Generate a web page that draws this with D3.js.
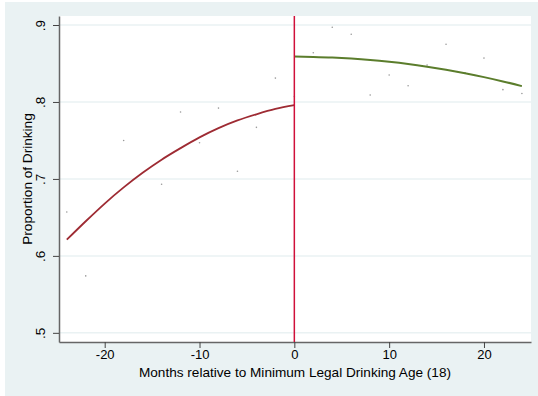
<!DOCTYPE html>
<html>
<head>
<meta charset="utf-8">
<script src="https://cdn.jsdelivr.net/npm/d3@7"></script>
<style>
  body { margin: 0; background: #fff; }
  svg { display: block; }
</style>
</head>
<body>
<script>
// binned scatter: months relative to MLDA, share drinking
const months = [-24, -22, -18, -14, -12, -10, -8, -6, -4, -2, 0,
  2, 4, 6, 8, 10, 12, 14, 16, 18, 20, 22, 24];
const shares = [0.657, 0.574, 0.750, 0.693, 0.787, 0.747, 0.792, 0.710, 0.767, 0.831, 0.807,
  0.864, 0.897, 0.888, 0.809, 0.835, 0.821, 0.848, 0.875, 0.838, 0.857, 0.816, 0.811];

// fitted values
const fitLeftX = [-24, -22, -20, -18, -16, -14, -12, -10, -8, -6, -4, -2, 0];
const fitLeftY = [0.621, 0.645, 0.668, 0.689, 0.708, 0.725, 0.740, 0.754, 0.766, 0.776, 0.784, 0.791, 0.796];
const fitRightX = [0, 2, 4, 6, 8, 10, 12, 14, 16, 18, 20, 22, 24];
const fitRightY = [0.859, 0.8585, 0.8577, 0.8564, 0.8546, 0.8522, 0.8493, 0.8458, 0.8418, 0.8373, 0.8323, 0.8267, 0.8206];

const xTicks = [-20, -10, 0, 10, 20];
const yTicks = [0.5, 0.6, 0.7, 0.8, 0.9];

const width = 538;
const height = 396;
const marginTop = 16;
const marginRight = 7;
const marginBottom = 54;
const marginLeft = 59;

const bgColor = "#eaf2f3";
const font = "Liberation Sans, Arial, sans-serif";

const x = d3.scaleLinear([-24.82, 24.96], [marginLeft, width - marginRight]);
const y = d3.scaleLinear([0.4881, 0.9117], [height - marginBottom, marginTop]);

const svg = d3.select("body").append("svg")
  .attr("width", width)
  .attr("height", height)
  .attr("viewBox", [0, 0, width, height]);

// outer panel
svg.append("rect")
  .attr("x", 5).attr("y", 2)
  .attr("width", width - 5).attr("height", height - 2)
  .attr("fill", bgColor);

svg.append("rect")
  .attr("x", marginLeft).attr("y", marginTop)
  .attr("width", width - marginLeft - marginRight)
  .attr("height", height - marginTop - marginBottom)
  .attr("fill", "#fff");

// grid
svg.append("g")
  .selectAll("line")
  .data(yTicks)
  .join("line")
  .attr("x1", marginLeft)
  .attr("x2", width - marginRight)
  .attr("y1", d => y(d))
  .attr("y2", d => y(d))
  .attr("stroke", bgColor)
  .attr("stroke-width", 1.5);

// axes
const fmt = d => d3.format(".1f")(d).replace(/^0/, "");

svg.append("g")
  .attr("transform", `translate(${marginLeft},0)`)
  .call(d3.axisLeft(y).tickValues(yTicks).tickSize(6).tickSizeOuter(0).tickPadding(8).tickFormat(fmt))
  .call(g => g.select(".domain").attr("stroke", "#666").attr("stroke-width", 1.5))
  .call(g => g.selectAll(".tick line").attr("stroke", "#444"))
  .call(g => g.selectAll(".tick text")
    .attr("font-family", font)
    .attr("font-size", 13.5)
    .attr("fill", "#000")
    .attr("transform", "rotate(-90)")
    .attr("x", 0)
    .attr("y", -14)
    .attr("dy", 0)
    .attr("text-anchor", "middle"));

svg.append("g")
  .attr("transform", `translate(0,${height - marginBottom})`)
  .call(d3.axisBottom(x).tickValues(xTicks).tickSize(6).tickSizeOuter(0).tickPadding(2)
    .tickFormat(d => String(d)))
  .call(g => g.select(".domain").attr("stroke", "#666").attr("stroke-width", 1.5))
  .call(g => g.selectAll(".tick line").attr("stroke", "#444"))
  .call(g => g.selectAll(".tick text")
    .attr("font-family", font)
    .attr("font-size", 13)
    .attr("fill", "#000"));

// axis titles
svg.append("text")
  .attr("x", 295)
  .attr("y", 377)
  .attr("text-anchor", "middle")
  .attr("font-family", font)
  .attr("font-size", 13.6)
  .text("Months relative to Minimum Legal Drinking Age (18)");

svg.append("text")
  .attr("transform", `translate(32,${(marginTop + height - marginBottom) / 2}) rotate(-90)`)
  .attr("text-anchor", "middle")
  .attr("font-family", font)
  .attr("font-size", 13.6)
  .text("Proportion of Drinking");

// scatter
svg.append("g")
  .attr("fill", "#999")
  .selectAll("circle")
  .data(months)
  .join("circle")
  .attr("cx", d => x(d))
  .attr("cy", (d, i) => y(shares[i]))
  .attr("r", 0.8);

// fitted curves
const line = d3.line().curve(d3.curveMonotoneX);

svg.append("path")
  .attr("d", line(fitLeftX.map((d, i) => [x(d), y(fitLeftY[i])])))
  .attr("fill", "none")
  .attr("stroke", "#9e2b33")
  .attr("stroke-width", 1.8);

svg.append("path")
  .attr("d", line(fitRightX.map((d, i) => [x(d), y(fitRightY[i])])))
  .attr("fill", "none")
  .attr("stroke", "#5b7d2c")
  .attr("stroke-width", 2);

// cutoff
svg.append("line")
  .attr("x1", x(0)).attr("x2", x(0))
  .attr("y1", marginTop).attr("y2", height - marginBottom)
  .attr("stroke", "#d0103a")
  .attr("stroke-width", 1.5);
</script>
</body>
</html>
